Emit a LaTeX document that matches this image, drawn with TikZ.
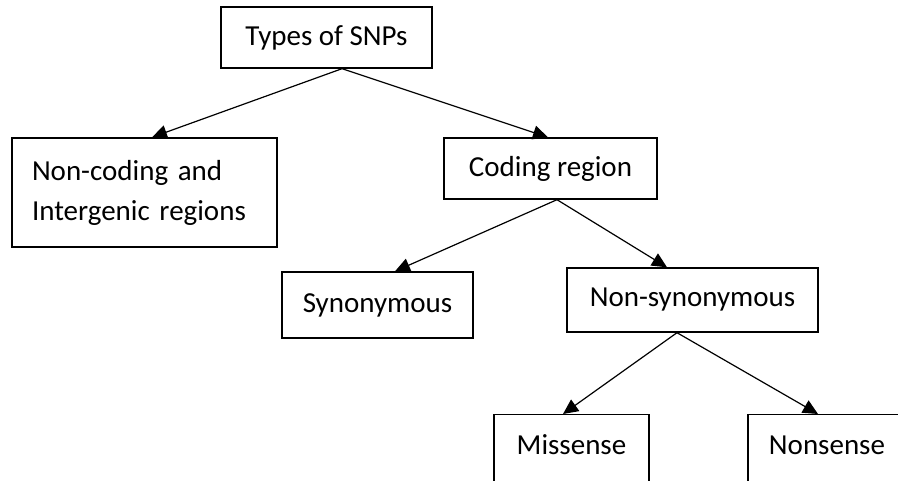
\documentclass[tikz,border=0pt]{standalone}
\usepackage{fontspec}
\setmainfont{Carlito}
\usetikzlibrary{arrows.meta}
\tikzset{
  box/.style={draw=black, line width=1.4pt, fill=white, inner sep=0pt, font=\fontsize{29}{40}\selectfont},
  lbl/.style={inner sep=0pt, font=\fontsize{29}{40}\selectfont},
  arr/.style={draw=black, line width=1.2pt, -{Triangle[length=15pt,width=14pt]}}
}
\begin{document}
\begin{tikzpicture}[x=1pt,y=-1pt]
\useasboundingbox[fill=white] (0,0) rectangle (898,481);
\node[box, minimum width=211pt, minimum height=61pt] (types) at (326.5,37.5) {Types of SNPs};
\node[box, minimum width=265pt, minimum height=109pt, text width=225pt, align=left] (noncoding) at (144.5,192.5) {Non-coding and\\Intergenic regions};
\node[box, minimum width=213pt, minimum height=61pt] (coding) at (550.5,168.5) {Coding region};
\node[box, minimum width=191pt, minimum height=66pt] (syn) at (377.5,305) {Synonymous};
\node[box, minimum width=251pt, minimum height=64pt] (nonsyn) at (692.5,300) {Non-synonymous};
\node[box, anchor=north, minimum width=155pt, minimum height=90pt] (mis) at (571.5,414) {};
\node[lbl] (mistext) at (571.5,445) {Missense};
\node[box, anchor=north, minimum width=158pt, minimum height=90pt] (non) at (827,414) {};
\node[lbl] (nontext) at (827,445) {Nonsense};
\draw[arr] ([xshift=15.5pt]types.south) -- ([xshift=7.5pt]noncoding.north);
\draw[arr] ([xshift=15.5pt]types.south) -- ([xshift=-2.5pt]coding.north);
\draw[arr] ([xshift=6.5pt]coding.south) -- ([xshift=17.5pt]syn.north);
\draw[arr] ([xshift=6.5pt]coding.south) -- ([xshift=-25.5pt]nonsyn.north);
\draw[arr] ([xshift=-15.5pt]nonsyn.south) -- ([xshift=-8.5pt]mis.north);
\draw[arr] ([xshift=-15.5pt]nonsyn.south) -- ([xshift=-9pt]non.north);
\end{tikzpicture}
\end{document}
